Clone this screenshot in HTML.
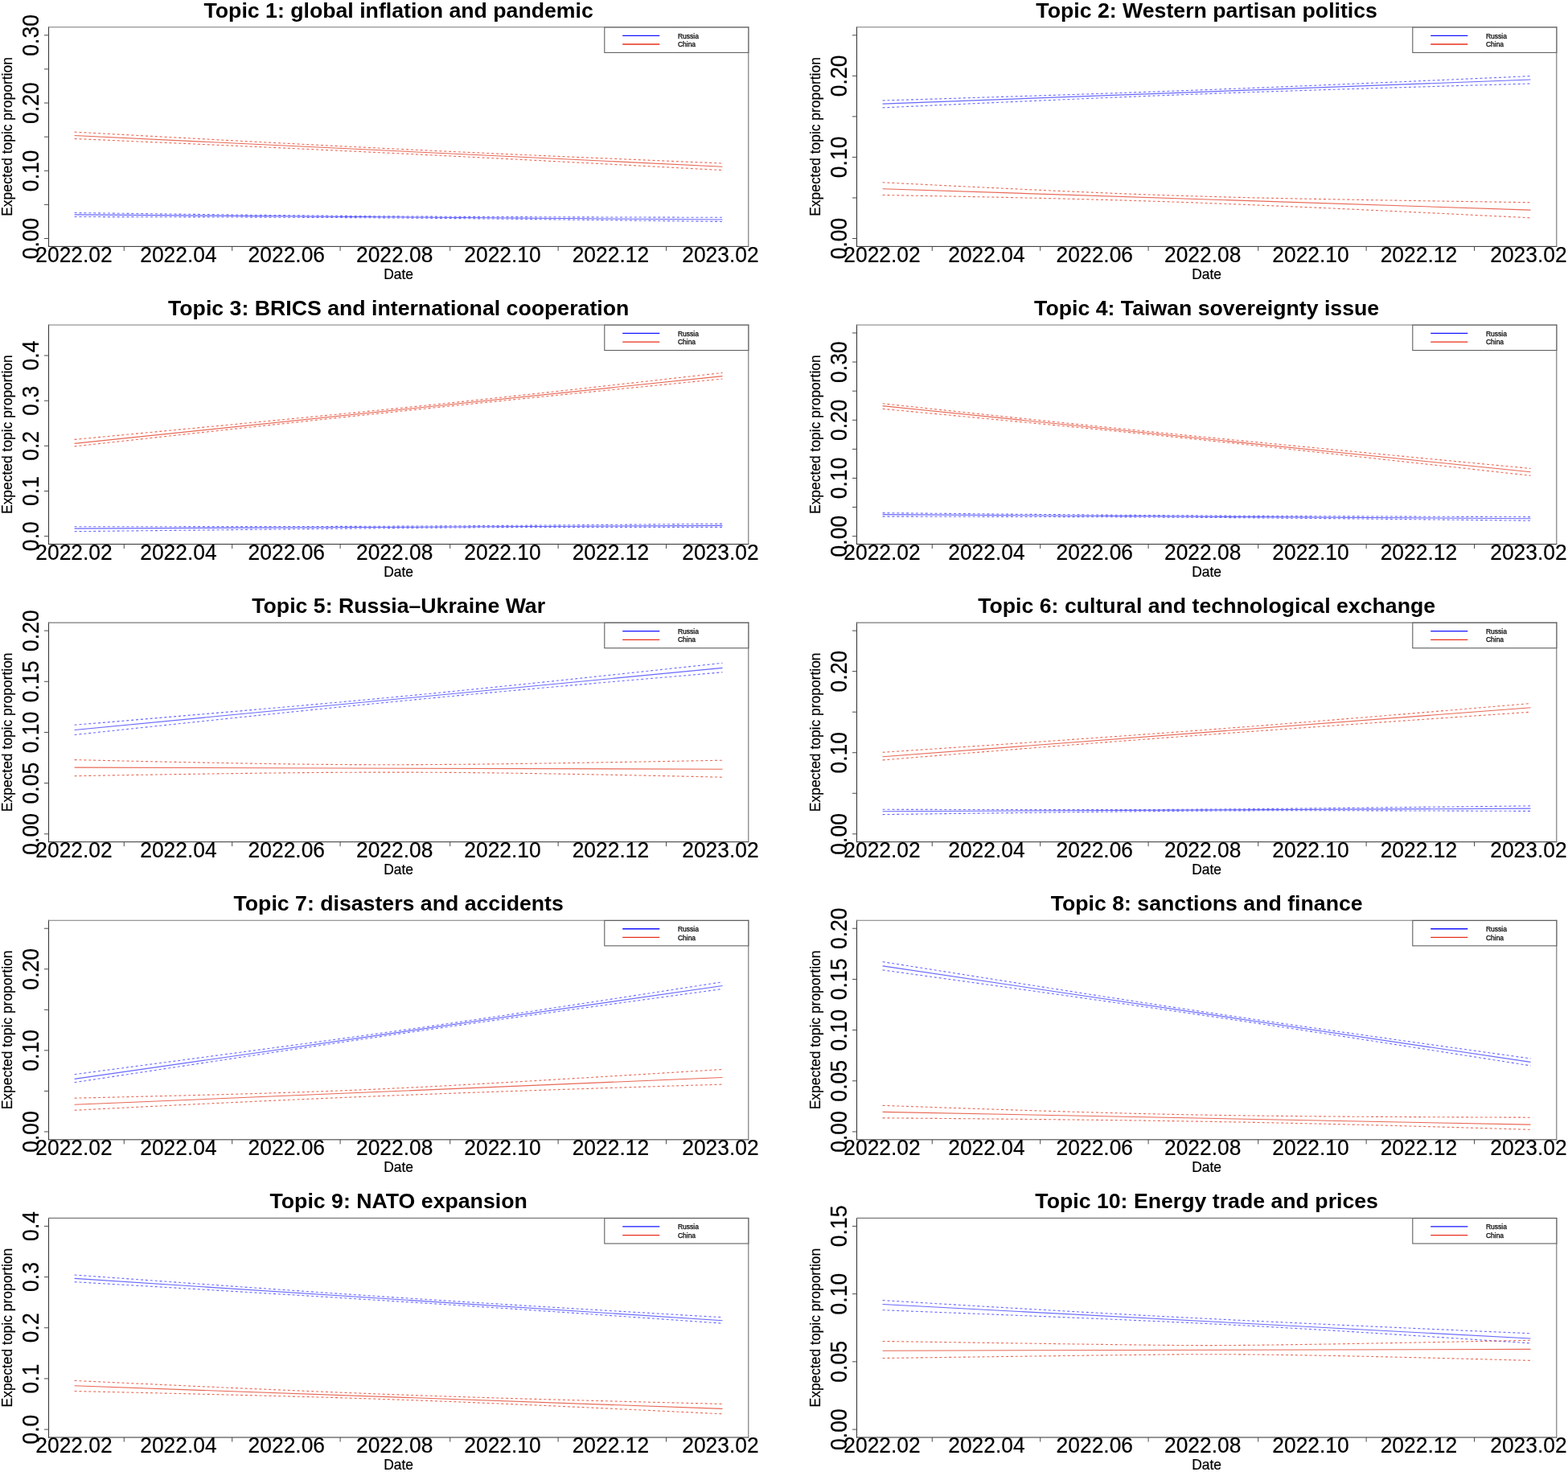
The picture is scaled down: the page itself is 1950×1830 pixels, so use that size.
<!DOCTYPE html>
<html><head><meta charset="utf-8"><title>Topic proportions</title>
<style>
html,body{margin:0;padding:0;background:#fff;}
body{width:1950px;height:1830px;overflow:hidden;}
svg{display:block;}
text{font-family:"Liberation Sans",sans-serif;fill:#000;}
.t{font-size:26.7px;font-weight:bold;text-anchor:middle;}
.xl{font-size:26.4px;text-anchor:middle;stroke:#000;stroke-width:0.2;}
.yl{font-size:26.6px;text-anchor:middle;stroke:#000;stroke-width:0.2;}
.lab{font-size:17.45px;text-anchor:middle;stroke:#000;stroke-width:0.2;}
.lg{font-size:8.5px;stroke:#000;stroke-width:0.25;}
.bl{stroke:#3a3a3a;stroke-width:1.1;}
.bb{stroke:#303030;stroke-width:1;}
.br{stroke:#707070;stroke-width:1.1;}
.bt{stroke:#7a7a7a;stroke-width:1.1;}
.leg{fill:#fff;stroke:#606060;stroke-width:1.1;}
.tk{stroke:#4a4a4a;stroke-width:1;}
.s{stroke-width:1.1;fill:none;opacity:0.75;}
.d{stroke-width:1.1;fill:none;stroke-dasharray:3 2.9;opacity:0.75;}
.ll{stroke-width:1.3;}
</style></head>
<body>
<svg width="1950" height="1830" viewBox="0 0 1950 1830">
<defs><clipPath id="clip"><rect x="60.5" y="33.8" width="870.3" height="272.6"/></clipPath></defs>
<rect x="0" y="0" width="1950" height="1830" fill="#fff"/>
<g transform="translate(0,0)">
<text class="t" x="495.65" y="21.5">Topic 1: global inflation and pandemic</text>
<g transform="translate(0,0)"><g clip-path="url(#clip)">
<line class="s" stroke="#e0361c" x1="92.6" y1="168.5" x2="898.5" y2="207.2"/>
<polyline class="d" stroke="#e0361c" points="92.6,164.1 112.75,165.21 132.89,166.31 153.04,167.41 173.19,168.51 193.34,169.61 213.48,170.7 233.63,171.79 253.78,172.87 273.93,173.95 294.07,175.02 314.22,176.09 334.37,177.15 354.52,178.2 374.66,179.24 394.81,180.28 414.96,181.31 435.11,182.32 455.25,183.32 475.4,184.32 495.55,185.3 515.7,186.27 535.85,187.23 555.99,188.18 576.14,189.11 596.29,190.03 616.44,190.95 636.58,191.85 656.73,192.75 676.88,193.63 697.02,194.51 717.17,195.38 737.32,196.25 757.47,197.11 777.62,197.96 797.76,198.81 817.91,199.66 838.06,200.5 858.2,201.33 878.35,202.17 898.5,203"/>
<polyline class="d" stroke="#e0361c" points="92.6,172.5 112.75,173.37 132.89,174.24 153.04,175.11 173.19,175.99 193.34,176.87 213.48,177.76 233.63,178.65 253.78,179.55 273.93,180.45 294.07,181.35 314.22,182.27 334.37,183.19 354.52,184.11 374.66,185.05 394.81,185.99 414.96,186.93 435.11,187.89 455.25,188.85 475.4,189.82 495.55,190.8 515.7,191.79 535.85,192.78 555.99,193.78 576.14,194.79 596.29,195.8 616.44,196.82 636.58,197.85 656.73,198.88 676.88,199.92 697.02,200.96 717.17,202.01 737.32,203.06 757.47,204.11 777.62,205.17 797.76,206.24 817.91,207.3 838.06,208.37 858.2,209.45 878.35,210.52 898.5,211.6"/>
<line class="s" stroke="#3535ff" x1="92.6" y1="266.9" x2="898.5" y2="273"/>
<polyline class="d" stroke="#3535ff" points="92.6,264.5 112.75,264.76 132.89,265.01 153.04,265.27 173.19,265.52 193.34,265.77 213.48,266.02 233.63,266.27 253.78,266.51 273.93,266.75 294.07,266.98 314.22,267.22 334.37,267.44 354.52,267.66 374.66,267.87 394.81,268.07 414.96,268.26 435.11,268.44 455.25,268.61 475.4,268.76 495.55,268.9 515.7,269.03 535.85,269.14 555.99,269.25 576.14,269.35 596.29,269.43 616.44,269.52 636.58,269.59 656.73,269.66 676.88,269.73 697.02,269.79 717.17,269.85 737.32,269.91 757.47,269.96 777.62,270.01 797.76,270.06 817.91,270.11 838.06,270.16 858.2,270.21 878.35,270.25 898.5,270.3"/>
<polyline class="d" stroke="#3535ff" points="92.6,269.5 112.75,269.55 132.89,269.59 153.04,269.64 173.19,269.69 193.34,269.74 213.48,269.8 233.63,269.85 253.78,269.91 273.93,269.97 294.07,270.03 314.22,270.1 334.37,270.17 354.52,270.24 374.66,270.33 394.81,270.41 414.96,270.51 435.11,270.62 455.25,270.73 475.4,270.86 495.55,271 515.7,271.15 535.85,271.32 555.99,271.5 576.14,271.69 596.29,271.89 616.44,272.09 636.58,272.31 656.73,272.54 676.88,272.77 697.02,273 717.17,273.24 737.32,273.48 757.47,273.73 777.62,273.97 797.76,274.23 817.91,274.48 838.06,274.73 858.2,274.99 878.35,275.24 898.5,275.5"/>
</g></g>
<line class="bl" x1="60.5" y1="33.3" x2="60.5" y2="306.9"/>
<line class="bb" x1="60" y1="306.4" x2="931.3" y2="306.4"/>
<line class="br" x1="930.8" y1="33.3" x2="930.8" y2="306.9"/>
<line class="bt" x1="60" y1="33.8" x2="931.3" y2="33.8"/>
<line class="tk" x1="55" y1="296.5" x2="60.5" y2="296.5"/>
<text class="yl" transform="translate(47.9,296.5) rotate(-90) scale(1,1.09)">0.00</text>
<line class="tk" x1="55" y1="254.38" x2="60.5" y2="254.38"/>
<line class="tk" x1="55" y1="212.27" x2="60.5" y2="212.27"/>
<text class="yl" transform="translate(47.9,212.27) rotate(-90) scale(1,1.09)">0.10</text>
<line class="tk" x1="55" y1="170.15" x2="60.5" y2="170.15"/>
<line class="tk" x1="55" y1="128.03" x2="60.5" y2="128.03"/>
<text class="yl" transform="translate(47.9,128.03) rotate(-90) scale(1,1.09)">0.20</text>
<line class="tk" x1="55" y1="85.92" x2="60.5" y2="85.92"/>
<line class="tk" x1="55" y1="43.8" x2="60.5" y2="43.8"/>
<text class="yl" transform="translate(47.9,43.8) rotate(-90) scale(1,1.09)">0.30</text>
<line class="tk" x1="154.28" y1="306.4" x2="154.28" y2="311.9"/>
<line class="tk" x1="288.69" y1="306.4" x2="288.69" y2="311.9"/>
<line class="tk" x1="423.1" y1="306.4" x2="423.1" y2="311.9"/>
<line class="tk" x1="559.72" y1="306.4" x2="559.72" y2="311.9"/>
<line class="tk" x1="694.14" y1="306.4" x2="694.14" y2="311.9"/>
<line class="tk" x1="828.55" y1="306.4" x2="828.55" y2="311.9"/>
<text class="xl" transform="translate(92,325.8) scale(1,1.06)">2022.02</text>
<text class="xl" transform="translate(221.95,325.8) scale(1,1.06)">2022.04</text>
<text class="xl" transform="translate(356.31,325.8) scale(1,1.06)">2022.06</text>
<text class="xl" transform="translate(490.67,325.8) scale(1,1.06)">2022.08</text>
<text class="xl" transform="translate(625.03,325.8) scale(1,1.06)">2022.10</text>
<text class="xl" transform="translate(759.39,325.8) scale(1,1.06)">2022.12</text>
<text class="xl" transform="translate(895.95,325.8) scale(1,1.06)">2023.02</text>
<text class="lab" transform="translate(495.65,346.8) scale(1,1.02)">Date</text>
<text class="lab" transform="translate(15.3,170) rotate(-90) scale(1,1.02)">Expected topic proportion</text>
<rect class="leg" x="751.8" y="34" width="179" height="31.4"/>
<line class="ll" stroke="#1414ff" x1="774.2" y1="44.3" x2="820.3" y2="44.3"/>
<line class="ll" stroke="#e8301a" x1="774.2" y1="55.0" x2="820.3" y2="55.0"/>
<text class="lg" x="842.9" y="47.6">Russia</text>
<text class="lg" x="842.9" y="58.2">China</text>
</g>
<g transform="translate(1005,0)">
<text class="t" x="495.65" y="21.5">Topic 2: Western partisan politics</text>
<g transform="translate(0,0)"><g clip-path="url(#clip)">
<line class="s" stroke="#3535ff" x1="92.6" y1="129.1" x2="898.5" y2="99"/>
<polyline class="d" stroke="#3535ff" points="92.6,125 112.75,124.39 132.89,123.77 153.04,123.15 173.19,122.52 193.34,121.9 213.48,121.26 233.63,120.63 253.78,119.98 273.93,119.33 294.07,118.68 314.22,118.02 334.37,117.34 354.52,116.66 374.66,115.98 394.81,115.28 414.96,114.56 435.11,113.84 455.25,113.11 475.4,112.36 495.55,111.6 515.7,110.83 535.85,110.04 555.99,109.25 576.14,108.44 596.29,107.63 616.44,106.8 636.58,105.97 656.73,105.12 676.88,104.27 697.02,103.42 717.17,102.55 737.32,101.69 757.47,100.81 777.62,99.94 797.76,99.05 817.91,98.17 838.06,97.28 858.2,96.39 878.35,95.5 898.5,94.6"/>
<polyline class="d" stroke="#3535ff" points="92.6,133.9 112.75,132.97 132.89,132.05 153.04,131.12 173.19,130.2 193.34,129.29 213.48,128.38 233.63,127.47 253.78,126.58 273.93,125.68 294.07,124.8 314.22,123.92 334.37,123.06 354.52,122.2 374.66,121.36 394.81,120.52 414.96,119.71 435.11,118.91 455.25,118.12 475.4,117.35 495.55,116.6 515.7,115.87 535.85,115.15 555.99,114.45 576.14,113.76 596.29,113.09 616.44,112.43 636.58,111.78 656.73,111.14 676.88,110.52 697.02,109.9 717.17,109.29 737.32,108.68 757.47,108.08 777.62,107.49 797.76,106.9 817.91,106.31 838.06,105.73 858.2,105.15 878.35,104.57 898.5,104"/>
<line class="s" stroke="#e0361c" x1="92.6" y1="234.7" x2="898.5" y2="261.1"/>
<polyline class="d" stroke="#e0361c" points="92.6,226.8 112.75,227.81 132.89,228.82 153.04,229.82 173.19,230.82 193.34,231.81 213.48,232.79 233.63,233.76 253.78,234.72 273.93,235.67 294.07,236.6 314.22,237.51 334.37,238.41 354.52,239.27 374.66,240.11 394.81,240.91 414.96,241.67 435.11,242.4 455.25,243.07 475.4,243.71 495.55,244.3 515.7,244.85 535.85,245.36 555.99,245.84 576.14,246.29 596.29,246.72 616.44,247.12 636.58,247.51 656.73,247.88 676.88,248.23 697.02,248.58 717.17,248.92 737.32,249.25 757.47,249.57 777.62,249.89 797.76,250.2 817.91,250.5 838.06,250.81 858.2,251.11 878.35,251.41 898.5,251.7"/>
<polyline class="d" stroke="#e0361c" points="92.6,242.5 112.75,242.86 132.89,243.22 153.04,243.59 173.19,243.97 193.34,244.35 213.48,244.75 233.63,245.16 253.78,245.59 273.93,246.03 294.07,246.49 314.22,246.97 334.37,247.47 354.52,248 374.66,248.55 394.81,249.13 414.96,249.74 435.11,250.38 455.25,251.06 475.4,251.76 495.55,252.5 515.7,253.26 535.85,254.06 555.99,254.87 576.14,255.71 596.29,256.57 616.44,257.45 636.58,258.34 656.73,259.25 676.88,260.17 697.02,261.1 717.17,262.04 737.32,262.99 757.47,263.95 777.62,264.91 797.76,265.88 817.91,266.86 838.06,267.84 858.2,268.82 878.35,269.81 898.5,270.8"/>
</g></g>
<line class="bl" x1="60.5" y1="33.3" x2="60.5" y2="306.9"/>
<line class="bb" x1="60" y1="306.4" x2="931.3" y2="306.4"/>
<line class="br" x1="930.8" y1="33.3" x2="930.8" y2="306.9"/>
<line class="bt" x1="60" y1="33.8" x2="931.3" y2="33.8"/>
<line class="tk" x1="55" y1="296.5" x2="60.5" y2="296.5"/>
<text class="yl" transform="translate(47.9,296.5) rotate(-90) scale(1,1.09)">0.00</text>
<line class="tk" x1="55" y1="245.96" x2="60.5" y2="245.96"/>
<line class="tk" x1="55" y1="195.42" x2="60.5" y2="195.42"/>
<text class="yl" transform="translate(47.9,195.42) rotate(-90) scale(1,1.09)">0.10</text>
<line class="tk" x1="55" y1="144.88" x2="60.5" y2="144.88"/>
<line class="tk" x1="55" y1="94.34" x2="60.5" y2="94.34"/>
<text class="yl" transform="translate(47.9,94.34) rotate(-90) scale(1,1.09)">0.20</text>
<line class="tk" x1="55" y1="43.8" x2="60.5" y2="43.8"/>
<line class="tk" x1="154.28" y1="306.4" x2="154.28" y2="311.9"/>
<line class="tk" x1="288.69" y1="306.4" x2="288.69" y2="311.9"/>
<line class="tk" x1="423.1" y1="306.4" x2="423.1" y2="311.9"/>
<line class="tk" x1="559.72" y1="306.4" x2="559.72" y2="311.9"/>
<line class="tk" x1="694.14" y1="306.4" x2="694.14" y2="311.9"/>
<line class="tk" x1="828.55" y1="306.4" x2="828.55" y2="311.9"/>
<text class="xl" transform="translate(92,325.8) scale(1,1.06)">2022.02</text>
<text class="xl" transform="translate(221.95,325.8) scale(1,1.06)">2022.04</text>
<text class="xl" transform="translate(356.31,325.8) scale(1,1.06)">2022.06</text>
<text class="xl" transform="translate(490.67,325.8) scale(1,1.06)">2022.08</text>
<text class="xl" transform="translate(625.03,325.8) scale(1,1.06)">2022.10</text>
<text class="xl" transform="translate(759.39,325.8) scale(1,1.06)">2022.12</text>
<text class="xl" transform="translate(895.95,325.8) scale(1,1.06)">2023.02</text>
<text class="lab" transform="translate(495.65,346.8) scale(1,1.02)">Date</text>
<text class="lab" transform="translate(15.3,170) rotate(-90) scale(1,1.02)">Expected topic proportion</text>
<rect class="leg" x="751.8" y="34" width="179" height="31.4"/>
<line class="ll" stroke="#1414ff" x1="774.2" y1="44.3" x2="820.3" y2="44.3"/>
<line class="ll" stroke="#e8301a" x1="774.2" y1="55.0" x2="820.3" y2="55.0"/>
<text class="lg" x="842.9" y="47.6">Russia</text>
<text class="lg" x="842.9" y="58.2">China</text>
</g>
<g transform="translate(0,370.15)">
<text class="t" x="495.65" y="21.5">Topic 3: BRICS and international cooperation</text>
<g transform="translate(0,-0.15)"><g clip-path="url(#clip)">
<line class="s" stroke="#e0361c" x1="92.6" y1="181.4" x2="898.5" y2="97.6"/>
<polyline class="d" stroke="#e0361c" points="92.6,176.4 112.75,174.5 132.89,172.59 153.04,170.68 173.19,168.77 193.34,166.86 213.48,164.95 233.63,163.03 253.78,161.11 273.93,159.19 294.07,157.26 314.22,155.33 334.37,153.39 354.52,151.44 374.66,149.49 394.81,147.53 414.96,145.55 435.11,143.56 455.25,141.56 475.4,139.54 495.55,137.5 515.7,135.44 535.85,133.36 555.99,131.26 576.14,129.13 596.29,126.98 616.44,124.82 636.58,122.64 656.73,120.44 676.88,118.23 697.02,116 717.17,113.77 737.32,111.53 757.47,109.28 777.62,107.02 797.76,104.76 817.91,102.5 838.06,100.23 858.2,97.95 878.35,95.68 898.5,93.4"/>
<polyline class="d" stroke="#e0361c" points="92.6,184.9 112.75,182.69 132.89,180.48 153.04,178.28 173.19,176.08 193.34,173.88 213.48,171.68 233.63,169.49 253.78,167.3 273.93,165.11 294.07,162.93 314.22,160.75 334.37,158.58 354.52,156.42 374.66,154.26 394.81,152.12 414.96,149.97 435.11,147.84 455.25,145.72 475.4,143.6 495.55,141.5 515.7,139.41 535.85,137.32 555.99,135.25 576.14,133.18 596.29,131.12 616.44,129.08 636.58,127.04 656.73,125 676.88,122.98 697.02,120.96 717.17,118.95 737.32,116.94 757.47,114.93 777.62,112.93 797.76,110.94 817.91,108.94 838.06,106.95 858.2,104.97 878.35,102.98 898.5,101"/>
<line class="s" stroke="#3535ff" x1="92.6" y1="287.1" x2="898.5" y2="283.4"/>
<polyline class="d" stroke="#3535ff" points="92.6,284.7 112.75,284.7 132.89,284.7 153.04,284.69 173.19,284.69 193.34,284.68 213.48,284.68 233.63,284.67 253.78,284.66 273.93,284.64 294.07,284.62 314.22,284.6 334.37,284.58 354.52,284.55 374.66,284.51 394.81,284.47 414.96,284.42 435.11,284.37 455.25,284.31 475.4,284.23 495.55,284.15 515.7,284.06 535.85,283.96 555.99,283.84 576.14,283.72 596.29,283.6 616.44,283.46 636.58,283.32 656.73,283.17 676.88,283.01 697.02,282.85 717.17,282.69 737.32,282.52 757.47,282.35 777.62,282.18 797.76,282 817.91,281.82 838.06,281.65 858.2,281.47 878.35,281.28 898.5,281.1"/>
<polyline class="d" stroke="#3535ff" points="92.6,290.7 112.75,290.48 132.89,290.26 153.04,290.05 173.19,289.83 193.34,289.62 213.48,289.4 233.63,289.19 253.78,288.97 273.93,288.76 294.07,288.55 314.22,288.34 334.37,288.13 354.52,287.92 374.66,287.71 394.81,287.51 414.96,287.31 435.11,287.11 455.25,286.92 475.4,286.73 495.55,286.55 515.7,286.38 535.85,286.21 555.99,286.05 576.14,285.91 596.29,285.78 616.44,285.67 636.58,285.58 656.73,285.5 676.88,285.44 697.02,285.4 717.17,285.36 737.32,285.34 757.47,285.33 777.62,285.33 797.76,285.33 817.91,285.34 838.06,285.35 858.2,285.36 878.35,285.38 898.5,285.4"/>
</g></g>
<line class="bl" x1="60.5" y1="33.3" x2="60.5" y2="306.9"/>
<line class="bb" x1="60" y1="306.4" x2="931.3" y2="306.4"/>
<line class="br" x1="930.8" y1="33.3" x2="930.8" y2="306.9"/>
<line class="bt" x1="60" y1="33.8" x2="931.3" y2="33.8"/>
<line class="tk" x1="55" y1="296.5" x2="60.5" y2="296.5"/>
<text class="yl" transform="translate(47.9,296.5) rotate(-90) scale(1,1.09)">0.0</text>
<line class="tk" x1="55" y1="240.34" x2="60.5" y2="240.34"/>
<text class="yl" transform="translate(47.9,240.34) rotate(-90) scale(1,1.09)">0.1</text>
<line class="tk" x1="55" y1="184.19" x2="60.5" y2="184.19"/>
<text class="yl" transform="translate(47.9,184.19) rotate(-90) scale(1,1.09)">0.2</text>
<line class="tk" x1="55" y1="128.03" x2="60.5" y2="128.03"/>
<text class="yl" transform="translate(47.9,128.03) rotate(-90) scale(1,1.09)">0.3</text>
<line class="tk" x1="55" y1="71.88" x2="60.5" y2="71.88"/>
<text class="yl" transform="translate(47.9,71.88) rotate(-90) scale(1,1.09)">0.4</text>
<line class="tk" x1="154.28" y1="306.4" x2="154.28" y2="311.9"/>
<line class="tk" x1="288.69" y1="306.4" x2="288.69" y2="311.9"/>
<line class="tk" x1="423.1" y1="306.4" x2="423.1" y2="311.9"/>
<line class="tk" x1="559.72" y1="306.4" x2="559.72" y2="311.9"/>
<line class="tk" x1="694.14" y1="306.4" x2="694.14" y2="311.9"/>
<line class="tk" x1="828.55" y1="306.4" x2="828.55" y2="311.9"/>
<text class="xl" transform="translate(92,325.8) scale(1,1.06)">2022.02</text>
<text class="xl" transform="translate(221.95,325.8) scale(1,1.06)">2022.04</text>
<text class="xl" transform="translate(356.31,325.8) scale(1,1.06)">2022.06</text>
<text class="xl" transform="translate(490.67,325.8) scale(1,1.06)">2022.08</text>
<text class="xl" transform="translate(625.03,325.8) scale(1,1.06)">2022.10</text>
<text class="xl" transform="translate(759.39,325.8) scale(1,1.06)">2022.12</text>
<text class="xl" transform="translate(895.95,325.8) scale(1,1.06)">2023.02</text>
<text class="lab" transform="translate(495.65,346.8) scale(1,1.02)">Date</text>
<text class="lab" transform="translate(15.3,170) rotate(-90) scale(1,1.02)">Expected topic proportion</text>
<rect class="leg" x="751.8" y="34" width="179" height="31.4"/>
<line class="ll" stroke="#1414ff" x1="774.2" y1="44.3" x2="820.3" y2="44.3"/>
<line class="ll" stroke="#e8301a" x1="774.2" y1="55.0" x2="820.3" y2="55.0"/>
<text class="lg" x="842.9" y="47.6">Russia</text>
<text class="lg" x="842.9" y="58.2">China</text>
</g>
<g transform="translate(1005,370.15)">
<text class="t" x="495.65" y="21.5">Topic 4: Taiwan sovereignty issue</text>
<g transform="translate(0,-0.15)"><g clip-path="url(#clip)">
<line class="s" stroke="#e0361c" x1="92.6" y1="134.6" x2="898.5" y2="216.8"/>
<polyline class="d" stroke="#e0361c" points="92.6,131.7 112.75,133.87 132.89,136.03 153.04,138.2 173.19,140.35 193.34,142.5 213.48,144.65 233.63,146.78 253.78,148.91 273.93,151.03 294.07,153.14 314.22,155.24 334.37,157.33 354.52,159.4 374.66,161.47 394.81,163.52 414.96,165.56 435.11,167.59 455.25,169.6 475.4,171.61 495.55,173.6 515.7,175.59 535.85,177.56 555.99,179.53 576.14,181.49 596.29,183.45 616.44,185.4 636.58,187.35 656.73,189.29 676.88,191.23 697.02,193.17 717.17,195.1 737.32,197.03 757.47,198.95 777.62,200.88 797.76,202.8 817.91,204.73 838.06,206.65 858.2,208.57 878.35,210.48 898.5,212.4"/>
<polyline class="d" stroke="#e0361c" points="92.6,138.3 112.75,140.19 132.89,142.09 153.04,143.99 173.19,145.89 193.34,147.79 213.48,149.7 233.63,151.61 253.78,153.53 273.93,155.46 294.07,157.39 314.22,159.34 334.37,161.29 354.52,163.26 374.66,165.24 394.81,167.24 414.96,169.25 435.11,171.28 455.25,173.34 475.4,175.41 495.55,177.5 515.7,179.61 535.85,181.73 555.99,183.88 576.14,186.03 596.29,188.19 616.44,190.37 636.58,192.55 656.73,194.74 676.88,196.93 697.02,199.13 717.17,201.34 737.32,203.55 757.47,205.76 777.62,207.97 797.76,210.19 817.91,212.41 838.06,214.63 858.2,216.85 878.35,219.07 898.5,221.3"/>
<line class="s" stroke="#3535ff" x1="92.6" y1="269.6" x2="898.5" y2="274.8"/>
<polyline class="d" stroke="#3535ff" points="92.6,267.6 112.75,267.8 132.89,268 153.04,268.19 173.19,268.38 193.34,268.58 213.48,268.77 233.63,268.95 253.78,269.14 273.93,269.32 294.07,269.49 314.22,269.67 334.37,269.84 354.52,270 374.66,270.16 394.81,270.32 414.96,270.47 435.11,270.61 455.25,270.75 475.4,270.88 495.55,271 515.7,271.12 535.85,271.23 555.99,271.34 576.14,271.44 596.29,271.53 616.44,271.63 636.58,271.71 656.73,271.8 676.88,271.88 697.02,271.95 717.17,272.03 737.32,272.1 757.47,272.17 777.62,272.23 797.76,272.3 817.91,272.36 838.06,272.42 858.2,272.48 878.35,272.54 898.5,272.6"/>
<polyline class="d" stroke="#3535ff" points="92.6,272.1 112.75,272.13 132.89,272.17 153.04,272.21 173.19,272.25 193.34,272.29 213.48,272.33 233.63,272.37 253.78,272.42 273.93,272.47 294.07,272.53 314.22,272.58 334.37,272.65 354.52,272.71 374.66,272.79 394.81,272.87 414.96,272.96 435.11,273.05 455.25,273.16 475.4,273.27 495.55,273.4 515.7,273.53 535.85,273.68 555.99,273.83 576.14,274 596.29,274.17 616.44,274.35 636.58,274.53 656.73,274.73 676.88,274.92 697.02,275.13 717.17,275.33 737.32,275.54 757.47,275.75 777.62,275.97 797.76,276.19 817.91,276.41 838.06,276.63 858.2,276.85 878.35,277.07 898.5,277.3"/>
</g></g>
<line class="bl" x1="60.5" y1="33.3" x2="60.5" y2="306.9"/>
<line class="bb" x1="60" y1="306.4" x2="931.3" y2="306.4"/>
<line class="br" x1="930.8" y1="33.3" x2="930.8" y2="306.9"/>
<line class="bt" x1="60" y1="33.8" x2="931.3" y2="33.8"/>
<line class="tk" x1="55" y1="296.5" x2="60.5" y2="296.5"/>
<text class="yl" transform="translate(47.9,296.5) rotate(-90) scale(1,1.09)">0.00</text>
<line class="tk" x1="55" y1="260.4" x2="60.5" y2="260.4"/>
<line class="tk" x1="55" y1="224.3" x2="60.5" y2="224.3"/>
<text class="yl" transform="translate(47.9,224.3) rotate(-90) scale(1,1.09)">0.10</text>
<line class="tk" x1="55" y1="188.2" x2="60.5" y2="188.2"/>
<line class="tk" x1="55" y1="152.1" x2="60.5" y2="152.1"/>
<text class="yl" transform="translate(47.9,152.1) rotate(-90) scale(1,1.09)">0.20</text>
<line class="tk" x1="55" y1="116" x2="60.5" y2="116"/>
<line class="tk" x1="55" y1="79.9" x2="60.5" y2="79.9"/>
<text class="yl" transform="translate(47.9,79.9) rotate(-90) scale(1,1.09)">0.30</text>
<line class="tk" x1="55" y1="43.8" x2="60.5" y2="43.8"/>
<line class="tk" x1="154.28" y1="306.4" x2="154.28" y2="311.9"/>
<line class="tk" x1="288.69" y1="306.4" x2="288.69" y2="311.9"/>
<line class="tk" x1="423.1" y1="306.4" x2="423.1" y2="311.9"/>
<line class="tk" x1="559.72" y1="306.4" x2="559.72" y2="311.9"/>
<line class="tk" x1="694.14" y1="306.4" x2="694.14" y2="311.9"/>
<line class="tk" x1="828.55" y1="306.4" x2="828.55" y2="311.9"/>
<text class="xl" transform="translate(92,325.8) scale(1,1.06)">2022.02</text>
<text class="xl" transform="translate(221.95,325.8) scale(1,1.06)">2022.04</text>
<text class="xl" transform="translate(356.31,325.8) scale(1,1.06)">2022.06</text>
<text class="xl" transform="translate(490.67,325.8) scale(1,1.06)">2022.08</text>
<text class="xl" transform="translate(625.03,325.8) scale(1,1.06)">2022.10</text>
<text class="xl" transform="translate(759.39,325.8) scale(1,1.06)">2022.12</text>
<text class="xl" transform="translate(895.95,325.8) scale(1,1.06)">2023.02</text>
<text class="lab" transform="translate(495.65,346.8) scale(1,1.02)">Date</text>
<text class="lab" transform="translate(15.3,170) rotate(-90) scale(1,1.02)">Expected topic proportion</text>
<rect class="leg" x="751.8" y="34" width="179" height="31.4"/>
<line class="ll" stroke="#1414ff" x1="774.2" y1="44.3" x2="820.3" y2="44.3"/>
<line class="ll" stroke="#e8301a" x1="774.2" y1="55.0" x2="820.3" y2="55.0"/>
<text class="lg" x="842.9" y="47.6">Russia</text>
<text class="lg" x="842.9" y="58.2">China</text>
</g>
<g transform="translate(0,740.3)">
<text class="t" x="495.65" y="21.5">Topic 5: Russia–Ukraine War</text>
<g transform="translate(0,-0.3)"><g clip-path="url(#clip)">
<line class="s" stroke="#3535ff" x1="92.6" y1="167.5" x2="898.5" y2="90.35"/>
<polyline class="d" stroke="#3535ff" points="92.6,161.3 112.75,159.61 132.89,157.92 153.04,156.23 173.19,154.53 193.34,152.83 213.48,151.12 233.63,149.41 253.78,147.69 273.93,145.97 294.07,144.23 314.22,142.49 334.37,140.74 354.52,138.97 374.66,137.19 394.81,135.4 414.96,133.58 435.11,131.75 455.25,129.89 475.4,128.01 495.55,126.1 515.7,124.17 535.85,122.21 555.99,120.22 576.14,118.21 596.29,116.18 616.44,114.13 636.58,112.07 656.73,109.98 676.88,107.89 697.02,105.78 717.17,103.66 737.32,101.53 757.47,99.39 777.62,97.25 797.76,95.1 817.91,92.95 838.06,90.79 858.2,88.63 878.35,86.47 898.5,84.3"/>
<polyline class="d" stroke="#3535ff" points="92.6,173.5 112.75,171.35 132.89,169.21 153.04,167.07 173.19,164.93 193.34,162.8 213.48,160.67 233.63,158.55 253.78,156.43 273.93,154.32 294.07,152.21 314.22,150.11 334.37,148.02 354.52,145.94 374.66,143.88 394.81,141.82 414.96,139.78 435.11,137.76 455.25,135.75 475.4,133.77 495.55,131.8 515.7,129.85 535.85,127.93 555.99,126.03 576.14,124.15 596.29,122.28 616.44,120.44 636.58,118.61 656.73,116.8 676.88,115.01 697.02,113.22 717.17,111.45 737.32,109.68 757.47,107.93 777.62,106.18 797.76,104.44 817.91,102.7 838.06,100.97 858.2,99.24 878.35,97.52 898.5,95.8"/>
<line class="s" stroke="#e0361c" x1="92.6" y1="214.1" x2="898.5" y2="216.2"/>
<polyline class="d" stroke="#e0361c" points="92.6,204.6 112.75,205.06 132.89,205.52 153.04,205.97 173.19,206.41 193.34,206.84 213.48,207.27 233.63,207.68 253.78,208.08 273.93,208.46 294.07,208.83 314.22,209.18 334.37,209.5 354.52,209.79 374.66,210.05 394.81,210.27 414.96,210.45 435.11,210.58 455.25,210.67 475.4,210.71 495.55,210.7 515.7,210.64 535.85,210.54 555.99,210.4 576.14,210.23 596.29,210.03 616.44,209.8 636.58,209.54 656.73,209.27 676.88,208.98 697.02,208.68 717.17,208.36 737.32,208.04 757.47,207.7 777.62,207.36 797.76,207.02 817.91,206.66 838.06,206.3 858.2,205.94 878.35,205.57 898.5,205.2"/>
<polyline class="d" stroke="#e0361c" points="92.6,224.7 112.75,224.35 132.89,224.01 153.04,223.68 173.19,223.35 193.34,223.03 213.48,222.71 233.63,222.41 253.78,222.11 273.93,221.83 294.07,221.55 314.22,221.3 334.37,221.06 354.52,220.84 374.66,220.64 394.81,220.47 414.96,220.33 435.11,220.21 455.25,220.14 475.4,220.1 495.55,220.1 515.7,220.14 535.85,220.23 555.99,220.35 576.14,220.51 596.29,220.71 616.44,220.94 636.58,221.2 656.73,221.49 676.88,221.81 697.02,222.14 717.17,222.5 737.32,222.87 757.47,223.25 777.62,223.64 797.76,224.05 817.91,224.47 838.06,224.89 858.2,225.32 878.35,225.76 898.5,226.2"/>
</g></g>
<line class="bl" x1="60.5" y1="33.3" x2="60.5" y2="306.9"/>
<line class="bb" x1="60" y1="306.4" x2="931.3" y2="306.4"/>
<line class="br" x1="930.8" y1="33.3" x2="930.8" y2="306.9"/>
<line class="bt" x1="60" y1="33.8" x2="931.3" y2="33.8"/>
<line class="tk" x1="55" y1="296.5" x2="60.5" y2="296.5"/>
<text class="yl" transform="translate(47.9,296.5) rotate(-90) scale(1,1.09)">0.00</text>
<line class="tk" x1="55" y1="233.32" x2="60.5" y2="233.32"/>
<text class="yl" transform="translate(47.9,233.32) rotate(-90) scale(1,1.09)">0.05</text>
<line class="tk" x1="55" y1="170.15" x2="60.5" y2="170.15"/>
<text class="yl" transform="translate(47.9,170.15) rotate(-90) scale(1,1.09)">0.10</text>
<line class="tk" x1="55" y1="106.97" x2="60.5" y2="106.97"/>
<text class="yl" transform="translate(47.9,106.97) rotate(-90) scale(1,1.09)">0.15</text>
<line class="tk" x1="55" y1="43.8" x2="60.5" y2="43.8"/>
<text class="yl" transform="translate(47.9,43.8) rotate(-90) scale(1,1.09)">0.20</text>
<line class="tk" x1="154.28" y1="306.4" x2="154.28" y2="311.9"/>
<line class="tk" x1="288.69" y1="306.4" x2="288.69" y2="311.9"/>
<line class="tk" x1="423.1" y1="306.4" x2="423.1" y2="311.9"/>
<line class="tk" x1="559.72" y1="306.4" x2="559.72" y2="311.9"/>
<line class="tk" x1="694.14" y1="306.4" x2="694.14" y2="311.9"/>
<line class="tk" x1="828.55" y1="306.4" x2="828.55" y2="311.9"/>
<text class="xl" transform="translate(92,325.8) scale(1,1.06)">2022.02</text>
<text class="xl" transform="translate(221.95,325.8) scale(1,1.06)">2022.04</text>
<text class="xl" transform="translate(356.31,325.8) scale(1,1.06)">2022.06</text>
<text class="xl" transform="translate(490.67,325.8) scale(1,1.06)">2022.08</text>
<text class="xl" transform="translate(625.03,325.8) scale(1,1.06)">2022.10</text>
<text class="xl" transform="translate(759.39,325.8) scale(1,1.06)">2022.12</text>
<text class="xl" transform="translate(895.95,325.8) scale(1,1.06)">2023.02</text>
<text class="lab" transform="translate(495.65,346.8) scale(1,1.02)">Date</text>
<text class="lab" transform="translate(15.3,170) rotate(-90) scale(1,1.02)">Expected topic proportion</text>
<rect class="leg" x="751.8" y="34" width="179" height="31.4"/>
<line class="ll" stroke="#1414ff" x1="774.2" y1="44.3" x2="820.3" y2="44.3"/>
<line class="ll" stroke="#e8301a" x1="774.2" y1="55.0" x2="820.3" y2="55.0"/>
<text class="lg" x="842.9" y="47.6">Russia</text>
<text class="lg" x="842.9" y="58.2">China</text>
</g>
<g transform="translate(1005,740.3)">
<text class="t" x="495.65" y="21.5">Topic 6: cultural and technological exchange</text>
<g transform="translate(0,-0.3)"><g clip-path="url(#clip)">
<line class="s" stroke="#e0361c" x1="92.6" y1="200.8" x2="898.5" y2="139.8"/>
<polyline class="d" stroke="#e0361c" points="92.6,195.3 112.75,193.96 132.89,192.62 153.04,191.28 173.19,189.93 193.34,188.58 213.48,187.22 233.63,185.86 253.78,184.49 273.93,183.11 294.07,181.73 314.22,180.34 334.37,178.94 354.52,177.53 374.66,176.11 394.81,174.68 414.96,173.23 435.11,171.77 455.25,170.3 475.4,168.81 495.55,167.3 515.7,165.78 535.85,164.23 555.99,162.68 576.14,161.1 596.29,159.51 616.44,157.91 636.58,156.29 656.73,154.67 676.88,153.03 697.02,151.38 717.17,149.72 737.32,148.05 757.47,146.37 777.62,144.69 797.76,143.01 817.91,141.31 838.06,139.62 858.2,137.91 878.35,136.21 898.5,134.5"/>
<polyline class="d" stroke="#e0361c" points="92.6,204.9 112.75,203.25 132.89,201.61 153.04,199.97 173.19,198.34 193.34,196.71 213.48,195.09 233.63,193.48 253.78,191.87 273.93,190.28 294.07,188.69 314.22,187.11 334.37,185.55 354.52,183.99 374.66,182.44 394.81,180.91 414.96,179.38 435.11,177.87 455.25,176.37 475.4,174.88 495.55,173.4 515.7,171.93 535.85,170.47 555.99,169.02 576.14,167.57 596.29,166.14 616.44,164.71 636.58,163.29 656.73,161.87 676.88,160.46 697.02,159.06 717.17,157.65 737.32,156.26 757.47,154.87 777.62,153.48 797.76,152.09 817.91,150.71 838.06,149.33 858.2,147.95 878.35,146.57 898.5,145.2"/>
<line class="s" stroke="#3535ff" x1="92.6" y1="268.8" x2="898.5" y2="265.1"/>
<polyline class="d" stroke="#3535ff" points="92.6,266.3 112.75,266.34 132.89,266.37 153.04,266.41 173.19,266.44 193.34,266.48 213.48,266.51 233.63,266.54 253.78,266.57 273.93,266.59 294.07,266.61 314.22,266.62 334.37,266.63 354.52,266.62 374.66,266.61 394.81,266.58 414.96,266.53 435.11,266.46 455.25,266.36 475.4,266.24 495.55,266.1 515.7,265.94 535.85,265.77 555.99,265.58 576.14,265.39 596.29,265.19 616.44,264.98 636.58,264.77 656.73,264.56 676.88,264.34 697.02,264.13 717.17,263.91 737.32,263.69 757.47,263.47 777.62,263.25 797.76,263.02 817.91,262.8 838.06,262.58 858.2,262.35 878.35,262.13 898.5,261.9"/>
<polyline class="d" stroke="#3535ff" points="92.6,272.6 112.75,272.35 132.89,272.09 153.04,271.84 173.19,271.59 193.34,271.34 213.48,271.1 233.63,270.85 253.78,270.6 273.93,270.36 294.07,270.12 314.22,269.88 334.37,269.65 354.52,269.42 374.66,269.2 394.81,268.99 414.96,268.78 435.11,268.59 455.25,268.41 475.4,268.24 495.55,268.1 515.7,267.98 535.85,267.89 555.99,267.82 576.14,267.77 596.29,267.75 616.44,267.74 636.58,267.75 656.73,267.77 676.88,267.8 697.02,267.83 717.17,267.88 737.32,267.92 757.47,267.97 777.62,268.03 797.76,268.09 817.91,268.15 838.06,268.21 858.2,268.27 878.35,268.33 898.5,268.4"/>
</g></g>
<line class="bl" x1="60.5" y1="33.3" x2="60.5" y2="306.9"/>
<line class="bb" x1="60" y1="306.4" x2="931.3" y2="306.4"/>
<line class="br" x1="930.8" y1="33.3" x2="930.8" y2="306.9"/>
<line class="bt" x1="60" y1="33.8" x2="931.3" y2="33.8"/>
<line class="tk" x1="55" y1="296.5" x2="60.5" y2="296.5"/>
<text class="yl" transform="translate(47.9,296.5) rotate(-90) scale(1,1.09)">0.00</text>
<line class="tk" x1="55" y1="245.96" x2="60.5" y2="245.96"/>
<line class="tk" x1="55" y1="195.42" x2="60.5" y2="195.42"/>
<text class="yl" transform="translate(47.9,195.42) rotate(-90) scale(1,1.09)">0.10</text>
<line class="tk" x1="55" y1="144.88" x2="60.5" y2="144.88"/>
<line class="tk" x1="55" y1="94.34" x2="60.5" y2="94.34"/>
<text class="yl" transform="translate(47.9,94.34) rotate(-90) scale(1,1.09)">0.20</text>
<line class="tk" x1="55" y1="43.8" x2="60.5" y2="43.8"/>
<line class="tk" x1="154.28" y1="306.4" x2="154.28" y2="311.9"/>
<line class="tk" x1="288.69" y1="306.4" x2="288.69" y2="311.9"/>
<line class="tk" x1="423.1" y1="306.4" x2="423.1" y2="311.9"/>
<line class="tk" x1="559.72" y1="306.4" x2="559.72" y2="311.9"/>
<line class="tk" x1="694.14" y1="306.4" x2="694.14" y2="311.9"/>
<line class="tk" x1="828.55" y1="306.4" x2="828.55" y2="311.9"/>
<text class="xl" transform="translate(92,325.8) scale(1,1.06)">2022.02</text>
<text class="xl" transform="translate(221.95,325.8) scale(1,1.06)">2022.04</text>
<text class="xl" transform="translate(356.31,325.8) scale(1,1.06)">2022.06</text>
<text class="xl" transform="translate(490.67,325.8) scale(1,1.06)">2022.08</text>
<text class="xl" transform="translate(625.03,325.8) scale(1,1.06)">2022.10</text>
<text class="xl" transform="translate(759.39,325.8) scale(1,1.06)">2022.12</text>
<text class="xl" transform="translate(895.95,325.8) scale(1,1.06)">2023.02</text>
<text class="lab" transform="translate(495.65,346.8) scale(1,1.02)">Date</text>
<text class="lab" transform="translate(15.3,170) rotate(-90) scale(1,1.02)">Expected topic proportion</text>
<rect class="leg" x="751.8" y="34" width="179" height="31.4"/>
<line class="ll" stroke="#1414ff" x1="774.2" y1="44.3" x2="820.3" y2="44.3"/>
<line class="ll" stroke="#e8301a" x1="774.2" y1="55.0" x2="820.3" y2="55.0"/>
<text class="lg" x="842.9" y="47.6">Russia</text>
<text class="lg" x="842.9" y="58.2">China</text>
</g>
<g transform="translate(0,1110.45)">
<text class="t" x="495.65" y="21.5">Topic 7: disasters and accidents</text>
<g transform="translate(0,-0.45)"><g clip-path="url(#clip)">
<line class="s" stroke="#3535ff" x1="92.6" y1="231.4" x2="898.5" y2="115.5"/>
<polyline class="d" stroke="#3535ff" points="92.6,225.7 112.75,223.03 132.89,220.35 153.04,217.68 173.19,215 193.34,212.32 213.48,209.64 233.63,206.95 253.78,204.27 273.93,201.57 294.07,198.88 314.22,196.18 334.37,193.47 354.52,190.76 374.66,188.03 394.81,185.3 414.96,182.56 435.11,179.8 455.25,177.02 475.4,174.22 495.55,171.4 515.7,168.55 535.85,165.68 555.99,162.77 576.14,159.84 596.29,156.88 616.44,153.89 636.58,150.88 656.73,147.86 676.88,144.82 697.02,141.76 717.17,138.69 737.32,135.62 757.47,132.53 777.62,129.44 797.76,126.34 817.91,123.24 838.06,120.14 858.2,117.03 878.35,113.91 898.5,110.8"/>
<polyline class="d" stroke="#3535ff" points="92.6,235.7 112.75,232.64 132.89,229.58 153.04,226.52 173.19,223.47 193.34,220.42 213.48,217.37 233.63,214.33 253.78,211.28 273.93,208.25 294.07,205.22 314.22,202.19 334.37,199.17 354.52,196.16 374.66,193.16 394.81,190.16 414.96,187.18 435.11,184.21 455.25,181.26 475.4,178.32 495.55,175.4 515.7,172.5 535.85,169.61 555.99,166.74 576.14,163.88 596.29,161.04 616.44,158.22 636.58,155.41 656.73,152.61 676.88,149.81 697.02,147.03 717.17,144.26 737.32,141.49 757.47,138.73 777.62,135.97 797.76,133.22 817.91,130.47 838.06,127.72 858.2,124.98 878.35,122.24 898.5,119.5"/>
<line class="s" stroke="#e0361c" x1="92.6" y1="263.3" x2="898.5" y2="229.5"/>
<polyline class="d" stroke="#e0361c" points="92.6,255.2 112.75,254.73 132.89,254.26 153.04,253.78 173.19,253.29 193.34,252.8 213.48,252.3 233.63,251.79 253.78,251.27 273.93,250.73 294.07,250.18 314.22,249.6 334.37,249.01 354.52,248.38 374.66,247.72 394.81,247.02 414.96,246.27 435.11,245.48 455.25,244.63 475.4,243.74 495.55,242.8 515.7,241.81 535.85,240.79 555.99,239.73 576.14,238.64 596.29,237.52 616.44,236.39 636.58,235.24 656.73,234.07 676.88,232.89 697.02,231.7 717.17,230.51 737.32,229.3 757.47,228.09 777.62,226.87 797.76,225.65 817.91,224.43 838.06,223.2 858.2,221.97 878.35,220.74 898.5,219.5"/>
<polyline class="d" stroke="#e0361c" points="92.6,270.3 112.75,269.26 132.89,268.24 153.04,267.22 173.19,266.2 193.34,265.2 213.48,264.21 233.63,263.22 253.78,262.25 273.93,261.29 294.07,260.35 314.22,259.41 334.37,258.49 354.52,257.59 374.66,256.7 394.81,255.83 414.96,254.97 435.11,254.13 455.25,253.3 475.4,252.49 495.55,251.7 515.7,250.92 535.85,250.16 555.99,249.41 576.14,248.67 596.29,247.95 616.44,247.23 636.58,246.53 656.73,245.84 676.88,245.16 697.02,244.48 717.17,243.82 737.32,243.16 757.47,242.51 777.62,241.86 797.76,241.22 817.91,240.59 838.06,239.96 858.2,239.34 878.35,238.72 898.5,238.1"/>
</g></g>
<line class="bl" x1="60.5" y1="33.3" x2="60.5" y2="306.9"/>
<line class="bb" x1="60" y1="306.4" x2="931.3" y2="306.4"/>
<line class="br" x1="930.8" y1="33.3" x2="930.8" y2="306.9"/>
<line class="bt" x1="60" y1="33.8" x2="931.3" y2="33.8"/>
<line class="tk" x1="55" y1="296.5" x2="60.5" y2="296.5"/>
<text class="yl" transform="translate(47.9,296.5) rotate(-90) scale(1,1.09)">0.00</text>
<line class="tk" x1="55" y1="245.96" x2="60.5" y2="245.96"/>
<line class="tk" x1="55" y1="195.42" x2="60.5" y2="195.42"/>
<text class="yl" transform="translate(47.9,195.42) rotate(-90) scale(1,1.09)">0.10</text>
<line class="tk" x1="55" y1="144.88" x2="60.5" y2="144.88"/>
<line class="tk" x1="55" y1="94.34" x2="60.5" y2="94.34"/>
<text class="yl" transform="translate(47.9,94.34) rotate(-90) scale(1,1.09)">0.20</text>
<line class="tk" x1="55" y1="43.8" x2="60.5" y2="43.8"/>
<line class="tk" x1="154.28" y1="306.4" x2="154.28" y2="311.9"/>
<line class="tk" x1="288.69" y1="306.4" x2="288.69" y2="311.9"/>
<line class="tk" x1="423.1" y1="306.4" x2="423.1" y2="311.9"/>
<line class="tk" x1="559.72" y1="306.4" x2="559.72" y2="311.9"/>
<line class="tk" x1="694.14" y1="306.4" x2="694.14" y2="311.9"/>
<line class="tk" x1="828.55" y1="306.4" x2="828.55" y2="311.9"/>
<text class="xl" transform="translate(92,325.8) scale(1,1.06)">2022.02</text>
<text class="xl" transform="translate(221.95,325.8) scale(1,1.06)">2022.04</text>
<text class="xl" transform="translate(356.31,325.8) scale(1,1.06)">2022.06</text>
<text class="xl" transform="translate(490.67,325.8) scale(1,1.06)">2022.08</text>
<text class="xl" transform="translate(625.03,325.8) scale(1,1.06)">2022.10</text>
<text class="xl" transform="translate(759.39,325.8) scale(1,1.06)">2022.12</text>
<text class="xl" transform="translate(895.95,325.8) scale(1,1.06)">2023.02</text>
<text class="lab" transform="translate(495.65,346.8) scale(1,1.02)">Date</text>
<text class="lab" transform="translate(15.3,170) rotate(-90) scale(1,1.02)">Expected topic proportion</text>
<rect class="leg" x="751.8" y="34" width="179" height="31.4"/>
<line class="ll" stroke="#1414ff" x1="774.2" y1="44.3" x2="820.3" y2="44.3"/>
<line class="ll" stroke="#e8301a" x1="774.2" y1="55.0" x2="820.3" y2="55.0"/>
<text class="lg" x="842.9" y="47.6">Russia</text>
<text class="lg" x="842.9" y="58.2">China</text>
</g>
<g transform="translate(1005,1110.45)">
<text class="t" x="495.65" y="21.5">Topic 8: sanctions and finance</text>
<g transform="translate(0,-0.45)"><g clip-path="url(#clip)">
<line class="s" stroke="#3535ff" x1="92.6" y1="90.9" x2="898.5" y2="210.4"/>
<polyline class="d" stroke="#3535ff" points="92.6,85.7 112.75,88.88 132.89,92.06 153.04,95.24 173.19,98.42 193.34,101.59 213.48,104.77 233.63,107.93 253.78,111.1 273.93,114.26 294.07,117.41 314.22,120.56 334.37,123.71 354.52,126.84 374.66,129.97 394.81,133.08 414.96,136.19 435.11,139.28 455.25,142.35 475.4,145.41 495.55,148.45 515.7,151.47 535.85,154.47 555.99,157.44 576.14,160.4 596.29,163.33 616.44,166.25 636.58,169.14 656.73,172.03 676.88,174.9 697.02,177.75 717.17,180.6 737.32,183.44 757.47,186.27 777.62,189.1 797.76,191.92 817.91,194.73 838.06,197.54 858.2,200.35 878.35,203.15 898.5,205.95"/>
<polyline class="d" stroke="#3535ff" points="92.6,95.9 112.75,98.7 132.89,101.5 153.04,104.3 173.19,107.11 193.34,109.91 213.48,112.73 233.63,115.54 253.78,118.36 273.93,121.18 294.07,124.01 314.22,126.85 334.37,129.69 354.52,132.54 374.66,135.4 394.81,138.27 414.96,141.15 435.11,144.05 455.25,146.97 475.4,149.9 495.55,152.85 515.7,155.82 535.85,158.81 555.99,161.82 576.14,164.85 596.29,167.9 616.44,170.97 636.58,174.05 656.73,177.15 676.88,180.25 697.02,183.37 717.17,186.5 737.32,189.63 757.47,192.78 777.62,195.92 797.76,199.08 817.91,202.23 838.06,205.4 858.2,208.56 878.35,211.73 898.5,214.9"/>
<line class="s" stroke="#e0361c" x1="92.6" y1="272.35" x2="898.5" y2="288.15"/>
<polyline class="d" stroke="#e0361c" points="92.6,264.35 112.75,265.06 132.89,265.77 153.04,266.47 173.19,267.17 193.34,267.86 213.48,268.54 233.63,269.21 253.78,269.86 273.93,270.51 294.07,271.14 314.22,271.76 334.37,272.35 354.52,272.93 374.66,273.48 394.81,274 414.96,274.5 435.11,274.96 455.25,275.39 475.4,275.79 495.55,276.15 515.7,276.48 535.85,276.78 555.99,277.05 576.14,277.29 596.29,277.51 616.44,277.7 636.58,277.88 656.73,278.04 676.88,278.18 697.02,278.31 717.17,278.43 737.32,278.55 757.47,278.65 777.62,278.74 797.76,278.83 817.91,278.91 838.06,278.99 858.2,279.07 878.35,279.13 898.5,279.2"/>
<polyline class="d" stroke="#e0361c" points="92.6,279.85 112.75,280.01 132.89,280.18 153.04,280.34 173.19,280.52 193.34,280.69 213.48,280.87 233.63,281.06 253.78,281.25 273.93,281.45 294.07,281.65 314.22,281.87 334.37,282.09 354.52,282.32 374.66,282.56 394.81,282.82 414.96,283.08 435.11,283.36 455.25,283.66 475.4,283.97 495.55,284.3 515.7,284.65 535.85,285.01 555.99,285.4 576.14,285.8 596.29,286.23 616.44,286.67 636.58,287.13 656.73,287.61 676.88,288.1 697.02,288.61 717.17,289.13 737.32,289.67 757.47,290.22 777.62,290.78 797.76,291.34 817.91,291.92 838.06,292.51 858.2,293.1 878.35,293.7 898.5,294.3"/>
</g></g>
<line class="bl" x1="60.5" y1="33.3" x2="60.5" y2="306.9"/>
<line class="bb" x1="60" y1="306.4" x2="931.3" y2="306.4"/>
<line class="br" x1="930.8" y1="33.3" x2="930.8" y2="306.9"/>
<line class="bt" x1="60" y1="33.8" x2="931.3" y2="33.8"/>
<line class="tk" x1="55" y1="296.5" x2="60.5" y2="296.5"/>
<text class="yl" transform="translate(47.9,296.5) rotate(-90) scale(1,1.09)">0.00</text>
<line class="tk" x1="55" y1="233.32" x2="60.5" y2="233.32"/>
<text class="yl" transform="translate(47.9,233.32) rotate(-90) scale(1,1.09)">0.05</text>
<line class="tk" x1="55" y1="170.15" x2="60.5" y2="170.15"/>
<text class="yl" transform="translate(47.9,170.15) rotate(-90) scale(1,1.09)">0.10</text>
<line class="tk" x1="55" y1="106.97" x2="60.5" y2="106.97"/>
<text class="yl" transform="translate(47.9,106.97) rotate(-90) scale(1,1.09)">0.15</text>
<line class="tk" x1="55" y1="43.8" x2="60.5" y2="43.8"/>
<text class="yl" transform="translate(47.9,43.8) rotate(-90) scale(1,1.09)">0.20</text>
<line class="tk" x1="154.28" y1="306.4" x2="154.28" y2="311.9"/>
<line class="tk" x1="288.69" y1="306.4" x2="288.69" y2="311.9"/>
<line class="tk" x1="423.1" y1="306.4" x2="423.1" y2="311.9"/>
<line class="tk" x1="559.72" y1="306.4" x2="559.72" y2="311.9"/>
<line class="tk" x1="694.14" y1="306.4" x2="694.14" y2="311.9"/>
<line class="tk" x1="828.55" y1="306.4" x2="828.55" y2="311.9"/>
<text class="xl" transform="translate(92,325.8) scale(1,1.06)">2022.02</text>
<text class="xl" transform="translate(221.95,325.8) scale(1,1.06)">2022.04</text>
<text class="xl" transform="translate(356.31,325.8) scale(1,1.06)">2022.06</text>
<text class="xl" transform="translate(490.67,325.8) scale(1,1.06)">2022.08</text>
<text class="xl" transform="translate(625.03,325.8) scale(1,1.06)">2022.10</text>
<text class="xl" transform="translate(759.39,325.8) scale(1,1.06)">2022.12</text>
<text class="xl" transform="translate(895.95,325.8) scale(1,1.06)">2023.02</text>
<text class="lab" transform="translate(495.65,346.8) scale(1,1.02)">Date</text>
<text class="lab" transform="translate(15.3,170) rotate(-90) scale(1,1.02)">Expected topic proportion</text>
<rect class="leg" x="751.8" y="34" width="179" height="31.4"/>
<line class="ll" stroke="#1414ff" x1="774.2" y1="44.3" x2="820.3" y2="44.3"/>
<line class="ll" stroke="#e8301a" x1="774.2" y1="55.0" x2="820.3" y2="55.0"/>
<text class="lg" x="842.9" y="47.6">Russia</text>
<text class="lg" x="842.9" y="58.2">China</text>
</g>
<g transform="translate(0,1480.6)">
<text class="t" x="495.65" y="21.5">Topic 9: NATO expansion</text>
<g transform="translate(0,-0.6)"><g clip-path="url(#clip)">
<line class="s" stroke="#3535ff" x1="92.6" y1="109.4" x2="898.5" y2="161.8"/>
<polyline class="d" stroke="#3535ff" points="92.6,105 112.75,106.46 132.89,107.91 153.04,109.36 173.19,110.81 193.34,112.26 213.48,113.7 233.63,115.14 253.78,116.57 273.93,118 294.07,119.42 314.22,120.84 334.37,122.25 354.52,123.65 374.66,125.05 394.81,126.43 414.96,127.81 435.11,129.17 455.25,130.53 475.4,131.87 495.55,133.2 515.7,134.52 535.85,135.82 555.99,137.11 576.14,138.39 596.29,139.66 616.44,140.91 636.58,142.16 656.73,143.39 676.88,144.62 697.02,145.84 717.17,147.05 737.32,148.25 757.47,149.45 777.62,150.64 797.76,151.82 817.91,153.01 838.06,154.18 858.2,155.36 878.35,156.53 898.5,157.7"/>
<polyline class="d" stroke="#3535ff" points="92.6,113.7 112.75,114.88 132.89,116.07 153.04,117.25 173.19,118.44 193.34,119.63 213.48,120.83 233.63,122.02 253.78,123.22 273.93,124.43 294.07,125.63 314.22,126.84 334.37,128.06 354.52,129.28 374.66,130.5 394.81,131.73 414.96,132.97 435.11,134.22 455.25,135.47 475.4,136.73 495.55,138 515.7,139.28 535.85,140.57 555.99,141.86 576.14,143.17 596.29,144.49 616.44,145.82 636.58,147.15 656.73,148.5 676.88,149.86 697.02,151.22 717.17,152.59 737.32,153.97 757.47,155.35 777.62,156.75 797.76,158.14 817.91,159.55 838.06,160.95 858.2,162.37 878.35,163.78 898.5,165.2"/>
<line class="s" stroke="#e0361c" x1="92.6" y1="242.8" x2="898.5" y2="271.4"/>
<polyline class="d" stroke="#e0361c" points="92.6,236.4 112.75,237.34 132.89,238.28 153.04,239.22 173.19,240.16 193.34,241.08 213.48,242.01 233.63,242.93 253.78,243.84 273.93,244.75 294.07,245.64 314.22,246.53 334.37,247.41 354.52,248.28 374.66,249.13 394.81,249.97 414.96,250.8 435.11,251.6 455.25,252.39 475.4,253.15 495.55,253.9 515.7,254.62 535.85,255.32 555.99,256 576.14,256.66 596.29,257.3 616.44,257.92 636.58,258.52 656.73,259.11 676.88,259.68 697.02,260.24 717.17,260.79 737.32,261.33 757.47,261.86 777.62,262.38 797.76,262.9 817.91,263.41 838.06,263.91 858.2,264.41 878.35,264.91 898.5,265.4"/>
<polyline class="d" stroke="#e0361c" points="92.6,249.5 112.75,249.96 132.89,250.41 153.04,250.88 173.19,251.34 193.34,251.81 213.48,252.29 233.63,252.77 253.78,253.25 273.93,253.75 294.07,254.25 314.22,254.76 334.37,255.28 354.52,255.82 374.66,256.37 394.81,256.93 414.96,257.52 435.11,258.13 455.25,258.76 475.4,259.42 495.55,260.1 515.7,260.81 535.85,261.55 555.99,262.32 576.14,263.12 596.29,263.94 616.44,264.78 636.58,265.64 656.73,266.51 676.88,267.41 697.02,268.31 717.17,269.23 737.32,270.16 757.47,271.09 777.62,272.03 797.76,272.98 817.91,273.94 838.06,274.9 858.2,275.86 878.35,276.83 898.5,277.8"/>
</g></g>
<line class="bl" x1="60.5" y1="33.3" x2="60.5" y2="306.9"/>
<line class="bb" x1="60" y1="306.4" x2="931.3" y2="306.4"/>
<line class="br" x1="930.8" y1="33.3" x2="930.8" y2="306.9"/>
<line class="bt" x1="60" y1="33.8" x2="931.3" y2="33.8"/>
<line class="tk" x1="55" y1="296.5" x2="60.5" y2="296.5"/>
<text class="yl" transform="translate(47.9,296.5) rotate(-90) scale(1,1.09)">0.0</text>
<line class="tk" x1="55" y1="233.32" x2="60.5" y2="233.32"/>
<text class="yl" transform="translate(47.9,233.32) rotate(-90) scale(1,1.09)">0.1</text>
<line class="tk" x1="55" y1="170.15" x2="60.5" y2="170.15"/>
<text class="yl" transform="translate(47.9,170.15) rotate(-90) scale(1,1.09)">0.2</text>
<line class="tk" x1="55" y1="106.97" x2="60.5" y2="106.97"/>
<text class="yl" transform="translate(47.9,106.97) rotate(-90) scale(1,1.09)">0.3</text>
<line class="tk" x1="55" y1="43.8" x2="60.5" y2="43.8"/>
<text class="yl" transform="translate(47.9,43.8) rotate(-90) scale(1,1.09)">0.4</text>
<line class="tk" x1="154.28" y1="306.4" x2="154.28" y2="311.9"/>
<line class="tk" x1="288.69" y1="306.4" x2="288.69" y2="311.9"/>
<line class="tk" x1="423.1" y1="306.4" x2="423.1" y2="311.9"/>
<line class="tk" x1="559.72" y1="306.4" x2="559.72" y2="311.9"/>
<line class="tk" x1="694.14" y1="306.4" x2="694.14" y2="311.9"/>
<line class="tk" x1="828.55" y1="306.4" x2="828.55" y2="311.9"/>
<text class="xl" transform="translate(92,325.8) scale(1,1.06)">2022.02</text>
<text class="xl" transform="translate(221.95,325.8) scale(1,1.06)">2022.04</text>
<text class="xl" transform="translate(356.31,325.8) scale(1,1.06)">2022.06</text>
<text class="xl" transform="translate(490.67,325.8) scale(1,1.06)">2022.08</text>
<text class="xl" transform="translate(625.03,325.8) scale(1,1.06)">2022.10</text>
<text class="xl" transform="translate(759.39,325.8) scale(1,1.06)">2022.12</text>
<text class="xl" transform="translate(895.95,325.8) scale(1,1.06)">2023.02</text>
<text class="lab" transform="translate(495.65,346.8) scale(1,1.02)">Date</text>
<text class="lab" transform="translate(15.3,170) rotate(-90) scale(1,1.02)">Expected topic proportion</text>
<rect class="leg" x="751.8" y="34" width="179" height="31.4"/>
<line class="ll" stroke="#1414ff" x1="774.2" y1="44.3" x2="820.3" y2="44.3"/>
<line class="ll" stroke="#e8301a" x1="774.2" y1="55.0" x2="820.3" y2="55.0"/>
<text class="lg" x="842.9" y="47.6">Russia</text>
<text class="lg" x="842.9" y="58.2">China</text>
</g>
<g transform="translate(1005,1480.6)">
<text class="t" x="495.65" y="21.5">Topic 10: Energy trade and prices</text>
<g transform="translate(0,-0.6)"><g clip-path="url(#clip)">
<line class="s" stroke="#3535ff" x1="92.6" y1="141.5" x2="898.5" y2="183.95"/>
<polyline class="d" stroke="#3535ff" points="92.6,136.6 112.75,137.82 132.89,139.04 153.04,140.25 173.19,141.45 193.34,142.65 213.48,143.84 233.63,145.02 253.78,146.19 273.93,147.36 294.07,148.51 314.22,149.65 334.37,150.78 354.52,151.89 374.66,152.99 394.81,154.08 414.96,155.15 435.11,156.21 455.25,157.26 475.4,158.28 495.55,159.3 515.7,160.3 535.85,161.29 555.99,162.27 576.14,163.23 596.29,164.19 616.44,165.14 636.58,166.07 656.73,167 676.88,167.93 697.02,168.84 717.17,169.75 737.32,170.66 757.47,171.56 777.62,172.45 797.76,173.34 817.91,174.23 838.06,175.11 858.2,176 878.35,176.87 898.5,177.75"/>
<polyline class="d" stroke="#3535ff" points="92.6,148.7 112.75,149.48 132.89,150.27 153.04,151.06 173.19,151.85 193.34,152.64 213.48,153.44 233.63,154.24 253.78,155.05 273.93,155.86 294.07,156.67 314.22,157.49 334.37,158.33 354.52,159.17 374.66,160.02 394.81,160.88 414.96,161.76 435.11,162.66 455.25,163.58 475.4,164.53 495.55,165.5 515.7,166.5 535.85,167.54 555.99,168.61 576.14,169.71 596.29,170.84 616.44,172 636.58,173.19 656.73,174.4 676.88,175.63 697.02,176.88 717.17,178.15 737.32,179.42 757.47,180.71 777.62,182 797.76,183.31 817.91,184.62 838.06,185.93 858.2,187.25 878.35,188.57 898.5,189.9"/>
<line class="s" stroke="#e0361c" x1="92.6" y1="199.2" x2="898.5" y2="197.4"/>
<polyline class="d" stroke="#e0361c" points="92.6,187.45 112.75,187.75 132.89,188.05 153.04,188.35 173.19,188.65 193.34,188.95 213.48,189.25 233.63,189.54 253.78,189.84 273.93,190.13 294.07,190.41 314.22,190.7 334.37,190.98 354.52,191.25 374.66,191.52 394.81,191.79 414.96,192.04 435.11,192.26 455.25,192.44 475.4,192.56 495.55,192.6 515.7,192.56 535.85,192.44 555.99,192.26 576.14,192.03 596.29,191.76 616.44,191.46 636.58,191.15 656.73,190.82 676.88,190.48 697.02,190.13 717.17,189.77 737.32,189.4 757.47,189.02 777.62,188.64 797.76,188.25 817.91,187.85 838.06,187.46 858.2,187.06 878.35,186.65 898.5,186.25"/>
<polyline class="d" stroke="#e0361c" points="92.6,208.5 112.75,208.23 132.89,207.96 153.04,207.69 173.19,207.42 193.34,207.15 213.48,206.89 233.63,206.62 253.78,206.35 273.93,206.09 294.07,205.82 314.22,205.56 334.37,205.29 354.52,205.03 374.66,204.77 394.81,204.52 414.96,204.27 435.11,204.05 455.25,203.87 475.4,203.75 495.55,203.7 515.7,203.73 535.85,203.83 555.99,204.01 576.14,204.24 596.29,204.51 616.44,204.83 636.58,205.18 656.73,205.56 676.88,205.96 697.02,206.38 717.17,206.82 737.32,207.28 757.47,207.76 777.62,208.26 797.76,208.76 817.91,209.28 838.06,209.8 858.2,210.33 878.35,210.86 898.5,211.4"/>
</g></g>
<line class="bl" x1="60.5" y1="33.3" x2="60.5" y2="306.9"/>
<line class="bb" x1="60" y1="306.4" x2="931.3" y2="306.4"/>
<line class="br" x1="930.8" y1="33.3" x2="930.8" y2="306.9"/>
<line class="bt" x1="60" y1="33.8" x2="931.3" y2="33.8"/>
<line class="tk" x1="55" y1="296.5" x2="60.5" y2="296.5"/>
<text class="yl" transform="translate(47.9,296.5) rotate(-90) scale(1,1.09)">0.00</text>
<line class="tk" x1="55" y1="212.27" x2="60.5" y2="212.27"/>
<text class="yl" transform="translate(47.9,212.27) rotate(-90) scale(1,1.09)">0.05</text>
<line class="tk" x1="55" y1="128.03" x2="60.5" y2="128.03"/>
<text class="yl" transform="translate(47.9,128.03) rotate(-90) scale(1,1.09)">0.10</text>
<line class="tk" x1="55" y1="43.8" x2="60.5" y2="43.8"/>
<text class="yl" transform="translate(47.9,43.8) rotate(-90) scale(1,1.09)">0.15</text>
<line class="tk" x1="154.28" y1="306.4" x2="154.28" y2="311.9"/>
<line class="tk" x1="288.69" y1="306.4" x2="288.69" y2="311.9"/>
<line class="tk" x1="423.1" y1="306.4" x2="423.1" y2="311.9"/>
<line class="tk" x1="559.72" y1="306.4" x2="559.72" y2="311.9"/>
<line class="tk" x1="694.14" y1="306.4" x2="694.14" y2="311.9"/>
<line class="tk" x1="828.55" y1="306.4" x2="828.55" y2="311.9"/>
<text class="xl" transform="translate(92,325.8) scale(1,1.06)">2022.02</text>
<text class="xl" transform="translate(221.95,325.8) scale(1,1.06)">2022.04</text>
<text class="xl" transform="translate(356.31,325.8) scale(1,1.06)">2022.06</text>
<text class="xl" transform="translate(490.67,325.8) scale(1,1.06)">2022.08</text>
<text class="xl" transform="translate(625.03,325.8) scale(1,1.06)">2022.10</text>
<text class="xl" transform="translate(759.39,325.8) scale(1,1.06)">2022.12</text>
<text class="xl" transform="translate(895.95,325.8) scale(1,1.06)">2023.02</text>
<text class="lab" transform="translate(495.65,346.8) scale(1,1.02)">Date</text>
<text class="lab" transform="translate(15.3,170) rotate(-90) scale(1,1.02)">Expected topic proportion</text>
<rect class="leg" x="751.8" y="34" width="179" height="31.4"/>
<line class="ll" stroke="#1414ff" x1="774.2" y1="44.3" x2="820.3" y2="44.3"/>
<line class="ll" stroke="#e8301a" x1="774.2" y1="55.0" x2="820.3" y2="55.0"/>
<text class="lg" x="842.9" y="47.6">Russia</text>
<text class="lg" x="842.9" y="58.2">China</text>
</g>
</svg>
</body></html>
